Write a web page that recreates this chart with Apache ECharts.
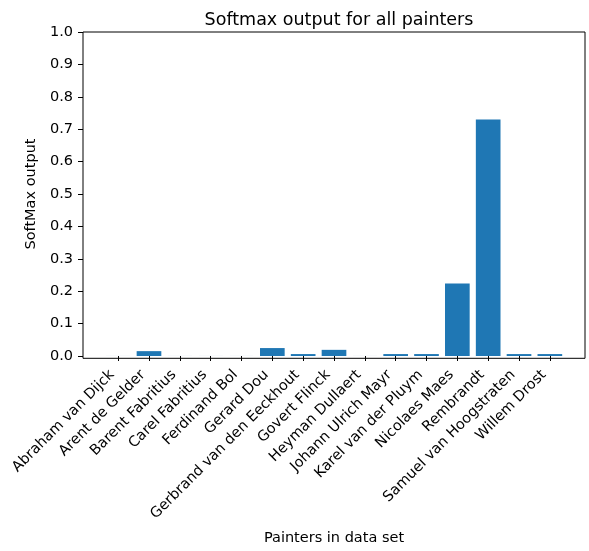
<!DOCTYPE html>
<html>
<head>
<meta charset="utf-8">
<script src="https://cdn.jsdelivr.net/npm/echarts@6/dist/echarts.min.js"></script>
<style>html,body{margin:0;padding:0;background:#fff;}#c{width:589px;height:551px;}</style>
</head>
<body>
<div id="c"></div>
<script>
const painters = ["Abraham van Dijck","Arent de Gelder","Barent Fabritius","Carel Fabritius","Ferdinand Bol","Gerard Dou","Gerbrand van den Eeckhout","Govert Flinck","Heyman Dullaert","Johann Ulrich Mayr","Karel van der Pluym","Nicolaes Maes","Rembrandt","Samuel van Hoogstraten","Willem Drost"];
const softmax = [0.0001, 0.015, 0.0001, 0.0001, 0.0001, 0.0245, 0.006, 0.019, 0.0001, 0.006, 0.006, 0.224, 0.730, 0.006, 0.006];
const yTicks = [0.0,0.1,0.2,0.3,0.4,0.5,0.6,0.7,0.8,0.9,1.0];

const FONT = 'DejaVu Sans';
const FS = 14.5;
const chart = echarts.init(document.getElementById('c'), null, {renderer:'canvas'});
const PL = 83, PR = 585, PT = 32, PB = 358.3;
const unit = (PR-PL) / (14 + 2*1.14);
const bandLeft = PL + (1.14 - 0.5)*unit;
const bandWidth = 15*unit;
chart.setOption({
  animation:false,
  title:{text:'Softmax output for all painters', left:(PL+PR)/2, top:6, textAlign:'center',
    textStyle:{fontFamily:FONT, fontSize:17.5, fontWeight:'normal', color:'#000'}},
  grid:[
    {left:bandLeft, top:PT, width:bandWidth, height:PB-PT, containLabel:false},
    {left:PL, top:PT, width:PR-PL, height:PB-PT, show:true, borderColor:'#000', borderWidth:1, backgroundColor:'transparent'}
  ],
  xAxis:[
    {type:'category', data:painters, gridIndex:0, boundaryGap:true,
     axisLine:{show:false},
     axisTick:{show:true, alignWithLabel:true, length:5, lineStyle:{color:'#000'}},
     axisLabel:{interval:0, rotate:45, fontFamily:FONT, fontSize:FS, color:'#000', margin:10.5, padding:[0,8.5,0,0]},
     name:'Painters in data set', nameLocation:'middle', nameGap:175,
     nameTextStyle:{fontFamily:FONT, fontSize:FS, color:'#000'}},
    {type:'value', gridIndex:1, show:false, min:0, max:1}
  ],
  yAxis:[
    {type:'value', gridIndex:0, min:0, max:1, interval:0.1, offset:bandLeft-PL,
     axisLine:{show:false},
     axisTick:{show:true, length:5, lineStyle:{color:'#000'}},
     splitLine:{show:false},
     axisLabel:{fontFamily:FONT, fontSize:FS, color:'#000', margin:10, formatter:v=>v.toFixed(1)},
     name:'SoftMax output', nameLocation:'middle', nameGap:42, nameRotate:90,
     nameTextStyle:{fontFamily:FONT, fontSize:FS, color:'#000'}},
    {type:'value', gridIndex:1, show:false, min:0, max:1}
  ],
  series:[{type:'bar', xAxisIndex:0, yAxisIndex:0, data:softmax, barWidth:'80%',
    itemStyle:{color:'#1f77b4'}}]
});
</script>
</body>
</html>
